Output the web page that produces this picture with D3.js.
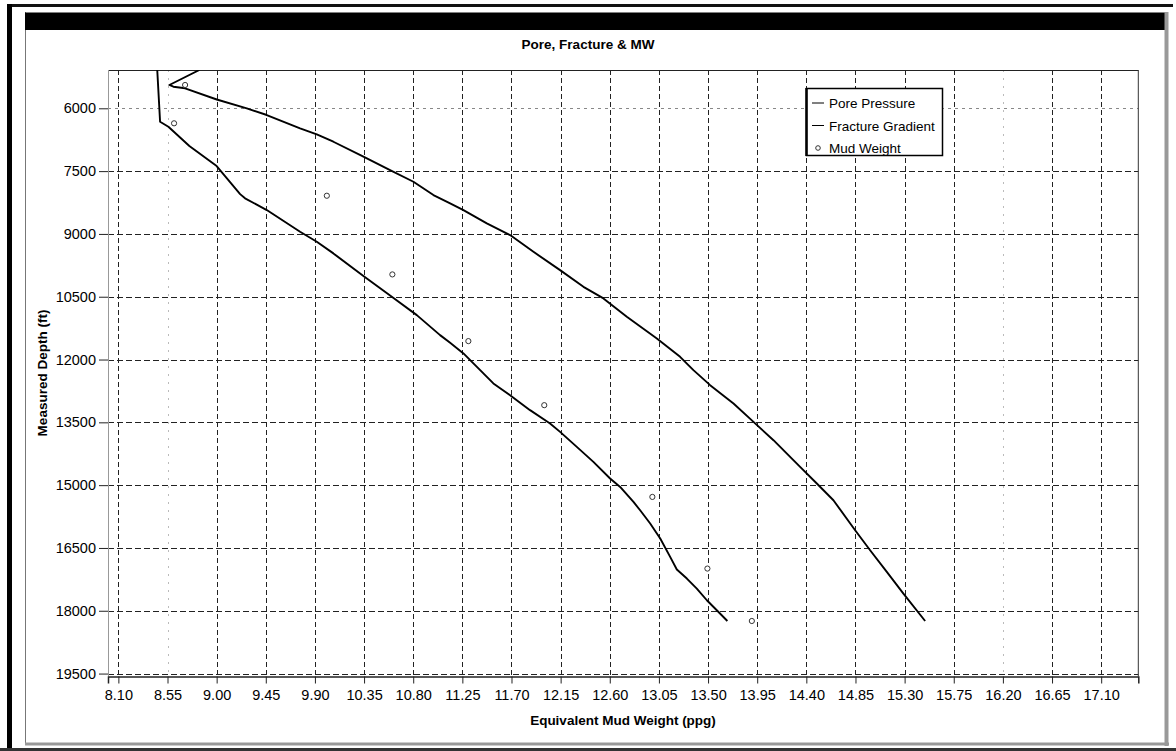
<!DOCTYPE html>
<html>
<head>
<meta charset="utf-8">
<script src="https://cdn.jsdelivr.net/npm/d3@7/dist/d3.min.js"></script>
<style>
  html, body { margin: 0; padding: 0; background: #fff; }
  svg { display: block; }
  text { font-family: "Liberation Sans", Arial, sans-serif; fill: #000; }
</style>
</head>
<body>
<svg id="chart" width="1176" height="751"></svg>
<script>
// ---------------- data ----------------
const xTickLabels = ["8.10","8.55","9.00","9.45","9.90","10.35","10.80","11.25","11.70","12.15","12.60","13.05","13.50","13.95","14.40","14.85","15.30","15.75","16.20","16.65","17.10"];
const yTickLabels = ["6000","7500","9000","10500","12000","13500","15000","16500","18000","19500"];

// [equivalent mud weight (ppg), measured depth (ft)]
const porePressure = [
  [8.456,5085],[8.482,6320],[8.558,6440],[8.75,6900],[9.00,7380],[9.215,8050],[9.26,8150],
  [9.459,8430],[9.764,8948],[9.917,9187],[10.069,9465],[10.344,10007],[10.604,10502],
  [10.833,10939],[11.046,11417],[11.138,11601],[11.26,11854],[11.413,12253],[11.534,12571],
  [11.687,12851],[11.87,13209],[12.053,13527],[12.145,13728],[12.298,14086],[12.45,14445],
  [12.603,14841],[12.695,15042],[12.817,15400],[12.878,15599],[12.97,15916],[13.062,16275],
  [13.153,16714],[13.214,17016],[13.306,17231],[13.397,17470],[13.489,17749],[13.58,17988],
  [13.677,18244]
];
const fractureGradient = [
  [8.842,5085],[8.567,5443],[8.604,5484],[8.711,5522],[9.001,5790],[9.276,6000],[9.459,6160],
  [9.764,6478],[9.917,6620],[10.069,6798],[10.344,7156],[10.588,7474],[10.802,7754],
  [10.985,8072],[11.138,8270],[11.26,8430],[11.474,8748],[11.687,9028],[11.901,9427],
  [12.145,9864],[12.359,10263],[12.542,10540],[12.756,10980],[13.031,11496],[13.244,11935],
  [13.366,12253],[13.519,12612],[13.733,13049],[13.916,13489],[14.099,13926],[14.343,14564],
  [14.496,14961],[14.648,15360],[14.847,16077],[14.984,16554],[15.137,17072],[15.289,17589],
  [15.488,18244]
];
const mudWeight = [
  [8.711,5443],[8.61,6358],[10.009,8088],[10.609,9967],[11.305,11560],[12.0,13090],
  [12.99,15281],[13.494,16992],[13.901,18244]
];
const legendItems = ["Pore Pressure","Fracture Gradient","Mud Weight"];

// ---------------- layout ----------------
const svg = d3.select("#chart");
const W = 1176, H = 751;
const plot = {left:108, top:70, right:1138.3, bottom:676.5};

svg.append("rect").attr("width",W).attr("height",H).attr("fill","#fff");

// window chrome
svg.append("rect").attr("x",7).attr("y",4).attr("width",1166).attr("height",3).attr("fill","#111");
svg.append("rect").attr("x",7).attr("y",4).attr("width",5).attr("height",747).attr("fill","#000");
svg.append("line").attr("x1",25.5).attr("x2",25.5).attr("y1",12).attr("y2",745).attr("stroke","#777").attr("stroke-width",1);
svg.append("rect").attr("x",25).attr("y",12.5).attr("width",1141).attr("height",17.5).attr("fill","#000");
svg.append("rect").attr("x",1164.5).attr("y",12).attr("width",4).attr("height",734).attr("fill","#999");
svg.append("rect").attr("x",25).attr("y",742.5).attr("width",1144).attr("height",3).attr("fill","#999");
svg.append("rect").attr("x",0).attr("y",748).attr("width",W).attr("height",3).attr("fill","#333");

// scales
const x = d3.scaleLinear().domain([8.005, 17.44]).range([plot.left, plot.right]);
const y = d3.scaleLinear().domain([5085, 19570]).range([plot.top, plot.bottom]);

const xVals = xTickLabels.map(Number);
const yVals = yTickLabels.map(Number);

// gridlines
const faintX = new Set(["8.55","16.20"]);
svg.append("g").selectAll("line").data(xTickLabels).join("line")
  .attr("x1",d=>Math.round(x(+d))+0.5).attr("x2",d=>Math.round(x(+d))+0.5)
  .attr("y1",plot.top).attr("y2",plot.bottom)
  .attr("stroke",d=>faintX.has(d)?"#bbb":"#222")
  .attr("stroke-width",1)
  .attr("stroke-dasharray",d=>faintX.has(d)?"2,6":"5,3");
svg.append("g").selectAll("line").data(yTickLabels).join("line")
  .attr("x1",plot.left).attr("x2",plot.right)
  .attr("y1",d=>Math.round(y(+d))+0.5).attr("y2",d=>Math.round(y(+d))+0.5)
  .attr("stroke",d=>d==="6000"?"#888":"#222")
  .attr("stroke-width",1)
  .attr("stroke-dasharray",d=>d==="6000"?"3,4":"6,3");

// plot frame
svg.append("line").attr("x1",plot.left).attr("x2",plot.right).attr("y1",plot.top+0.5).attr("y2",plot.top+0.5).attr("stroke","#222");
svg.append("line").attr("x1",plot.left+0.5).attr("x2",plot.left+0.5).attr("y1",plot.top).attr("y2",plot.bottom).attr("stroke","#999");
svg.append("line").attr("x1",plot.right).attr("x2",plot.right).attr("y1",plot.top).attr("y2",plot.bottom).attr("stroke","#333");

// axes
const xAxis = d3.axisBottom(x).tickValues(xVals).tickSize(7).tickPadding(6)
  .tickFormat((d,i)=>xTickLabels[i]);
const gx = svg.append("g").attr("transform",`translate(0,${plot.bottom})`).call(xAxis);
gx.select(".domain").attr("stroke","#222").attr("stroke-width",1.5);
gx.selectAll(".tick line").attr("stroke","#222");
gx.selectAll("text").attr("font-size","14.5px").attr("font-family","Liberation Sans, Arial, sans-serif").attr("fill","#000");

const yAxis = d3.axisLeft(y).tickValues(yVals).tickSize(9).tickPadding(3)
  .tickFormat((d,i)=>yTickLabels[i]);
const gy = svg.append("g").attr("transform",`translate(${plot.left},0)`).call(yAxis);
gy.select(".domain").remove();
gy.selectAll(".tick line").attr("stroke","#222");
gy.selectAll("text").attr("font-size","14.5px").attr("font-family","Liberation Sans, Arial, sans-serif").attr("fill","#000");

// clip
svg.append("clipPath").attr("id","clip").append("rect")
  .attr("x",plot.left).attr("y",plot.top).attr("width",plot.right-plot.left).attr("height",plot.bottom-plot.top);

const line = d3.line().x(d=>x(d[0])).y(d=>y(d[1]));
const g = svg.append("g").attr("clip-path","url(#clip)");
[porePressure, fractureGradient].forEach(s=>{
  g.append("path").datum(s).attr("d",line).attr("fill","none")
    .attr("stroke","#000").attr("stroke-width",1.9).attr("stroke-linejoin","round");
});
g.selectAll("circle").data(mudWeight).join("circle")
  .attr("cx",d=>x(d[0])).attr("cy",d=>y(d[1])).attr("r",2.6)
  .attr("fill","#fff").attr("stroke","#333").attr("stroke-width",1);

// legend
const lg = svg.append("g");
lg.append("rect").attr("x",806.5).attr("y",88.5).attr("width",136).attr("height",67)
  .attr("fill","#fff").attr("stroke","#000").attr("stroke-width",1.5);
lg.append("line").attr("x1",806.5).attr("x2",806.5).attr("y1",88).attr("y2",156).attr("stroke","#000").attr("stroke-width",2.5);
legendItems.forEach((name,i)=>{
  const cy = 103 + i*22.5;
  if (i < 2) {
    lg.append("line").attr("x1",812).attr("x2",824).attr("y1",cy).attr("y2",cy).attr("stroke","#000").attr("stroke-width",1);
  } else {
    lg.append("circle").attr("cx",818).attr("cy",cy).attr("r",2.3).attr("fill","#fff").attr("stroke","#333");
  }
  lg.append("text").attr("x",829).attr("y",cy+5).attr("font-size","13.5px").text(name);
});

// titles
svg.append("text").attr("x",588).attr("y",49).attr("text-anchor","middle")
  .attr("font-size","13.5px").attr("font-weight","bold").text("Pore, Fracture & MW");
svg.append("text").attr("x",623).attr("y",725).attr("text-anchor","middle")
  .attr("font-size","13.5px").attr("font-weight","bold").text("Equivalent Mud Weight (ppg)");
svg.append("text").attr("transform","translate(47,373) rotate(-90)").attr("text-anchor","middle")
  .attr("font-size","13.5px").attr("font-weight","bold").text("Measured Depth (ft)");
</script>
</body>
</html>
